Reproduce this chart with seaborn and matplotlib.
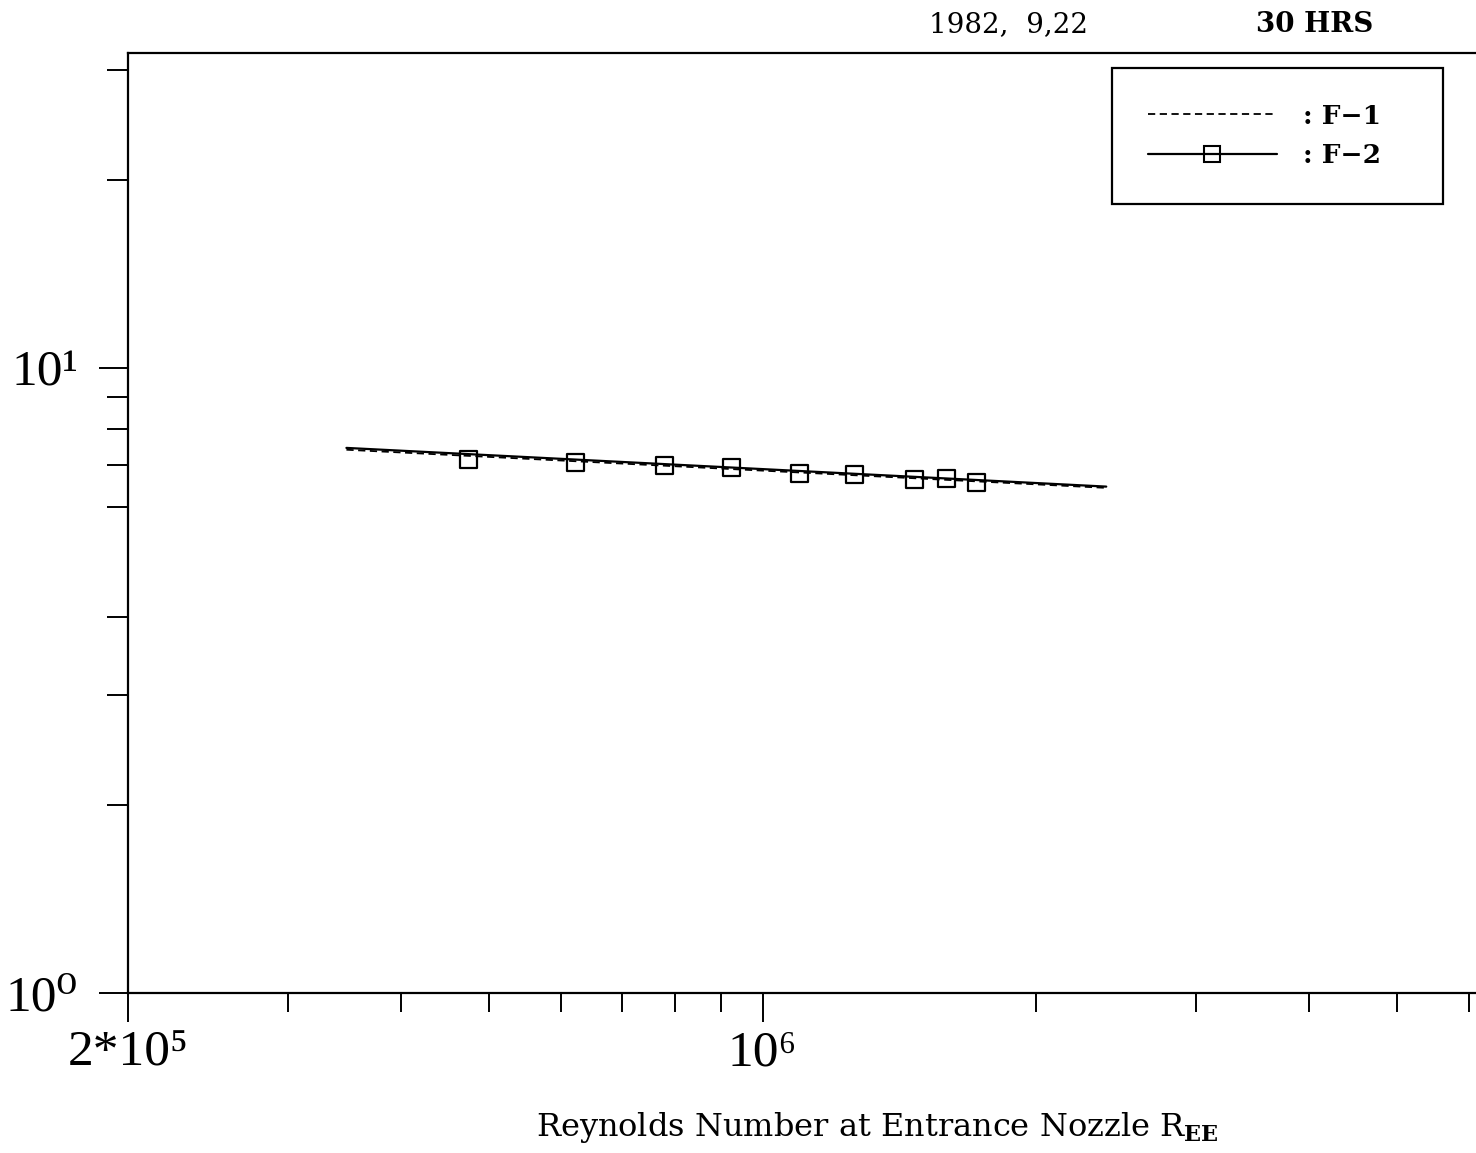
import numpy as np
import pandas as pd
import matplotlib
matplotlib.use("Agg")
import matplotlib.pyplot as plt
import seaborn as sns
from matplotlib.lines import Line2D
from matplotlib.ticker import NullFormatter

# ---- data ----
f2_re = [4.74e5, 6.22e5, 7.80e5, 9.25e5, 1.097e6, 1.262e6, 1.470e6, 1.595e6, 1.718e6]
f2_val = [7.13, 7.07, 6.97, 6.93, 6.77, 6.76, 6.64, 6.65, 6.55]

f1_fit_re = [3.48e5, 2.39e6]
f1_fit_val = [7.40, 6.43]
f2_fit_re = [3.48e5, 2.39e6]
f2_fit_val = [7.45, 6.46]

x_major = [2e5, 1e6]
x_major_labels = ["2*10\u2075", "10\u2076"]
x_minor = [3e5, 4e5, 5e5, 6e5, 7e5, 8e5, 9e5, 2e6, 3e6, 4e6, 5e6, 6e6]
y_major = [1, 10]
y_major_labels = ["10\u2070", "10\u00b9"]
y_minor = [2, 3, 4, 6, 7, 8, 9, 20, 30]

legend_labels = [": F\u22121", ": F\u22122"]
header_date = "1982,  9,22"
header_hrs = "30 HRS"
x_label = r"Reynolds Number at Entrance Nozzle R$_{\mathbf{EE}}$"

# ---- style ----
sns.set_style("ticks")
plt.rcParams["font.family"] = ["DejaVu Serif", "DejaVu Sans"]
plt.rcParams["mathtext.fontset"] = "dejavuserif"
for key in ["text.color", "axes.labelcolor", "xtick.color", "ytick.color", "axes.edgecolor"]:
    plt.rcParams[key] = "black"

W, H = 1476, 1153
fig = plt.figure(figsize=(W / 100, H / 100), dpi=100)
ax = fig.add_axes([128 / W, 1 - 993 / H, (W - 128) / W, (993 - 53) / H])

fit_df = pd.DataFrame({
    "Re": f1_fit_re + f2_fit_re,
    "val": f1_fit_val + f2_fit_val,
    "series": ["F-1"] * len(f1_fit_re) + ["F-2"] * len(f2_fit_re),
})
pts_df = pd.DataFrame({"Re": f2_re, "val": f2_val})

sns.lineplot(data=fit_df[fit_df.series == "F-2"], x="Re", y="val", ax=ax,
             color="black", lw=1.6, legend=False)
sns.lineplot(data=fit_df[fit_df.series == "F-1"], x="Re", y="val", ax=ax,
             color="black", lw=1.3, legend=False, linestyle=(0, (4, 2.5)))
sns.scatterplot(data=pts_df, x="Re", y="val", ax=ax, marker="s", s=150,
                facecolor="none", edgecolor="black", linewidth=1.6, legend=False)

ax.set_xscale("log")
ax.set_yscale("log")
ax.set_xlim(2e5, 2e5 * 10 ** ((W - 128) / 908))
ax.set_ylim(1, 10 ** ((993 - 53) / 625))

ax.set_xticks(x_major, labels=x_major_labels)
ax.set_xticks(x_minor, minor=True)
ax.set_yticks(y_major, labels=y_major_labels)
ax.set_yticks(y_minor, minor=True)
ax.xaxis.set_minor_formatter(NullFormatter())
ax.yaxis.set_minor_formatter(NullFormatter())

tick_font = ["Liberation Serif", "DejaVu Serif"]
for lab in ax.get_xticklabels() + ax.get_yticklabels():
    lab.set_fontfamily(tick_font)
    lab.set_fontsize(37)
    lab.set_color("black")

ax.tick_params(axis="x", which="major", direction="out", length=21, width=1.4, pad=6)
ax.tick_params(axis="x", which="minor", direction="out", length=14, width=1.4)
ax.tick_params(axis="y", which="major", direction="out", length=21, width=1.4, pad=15)
ax.tick_params(axis="y", which="minor", direction="out", length=15, width=1.4)

for side in ["left", "bottom", "top"]:
    ax.spines[side].set_color("black")
    ax.spines[side].set_linewidth(1.6)
ax.spines["right"].set_visible(False)
ax.grid(False)

ax.set_xlabel(x_label, fontsize=23, family="DejaVu Serif", color="black")
ax.xaxis.set_label_coords((877 - 128) / (W - 128), (993 - 1110) / (993 - 53))
ax.set_ylabel("")

handles = [
    Line2D([], [], color="black", lw=1.3, linestyle=(0, (4, 2.5))),
    Line2D([], [], color="black", lw=1.6, marker="s", markersize=11,
           markerfacecolor="none", markeredgecolor="black", markeredgewidth=1.5),
]
x0 = (1112 - 128) / (W - 128)
y1 = (993 - 68) / (993 - 53)
y0 = (993 - 200) / (993 - 53)
leg = ax.legend(handles, legend_labels, loc="upper left",
                bbox_to_anchor=(x0, y0, (1443 - 1112) / (W - 128), y1 - y0),
                mode="expand", borderaxespad=0, frameon=True, fancybox=False,
                edgecolor="black", framealpha=1, handlelength=4.9,
                handletextpad=1.0, borderpad=1.35, labelspacing=0.55,
                prop={"family": "DejaVu Serif", "weight": "bold", "size": 19})
leg.get_frame().set_linewidth(1.6)
for t in leg.get_texts():
    t.set_color("black")

fig.text(1008 / W, 1 - 25 / H, header_date, ha="center", va="center",
         fontsize=20, family="DejaVu Serif")
fig.text(1315 / W, 1 - 25 / H, header_hrs, ha="center", va="center",
         fontsize=20, family="DejaVu Serif", weight="bold")

fig.savefig("out.png", dpi=100, facecolor="white")
